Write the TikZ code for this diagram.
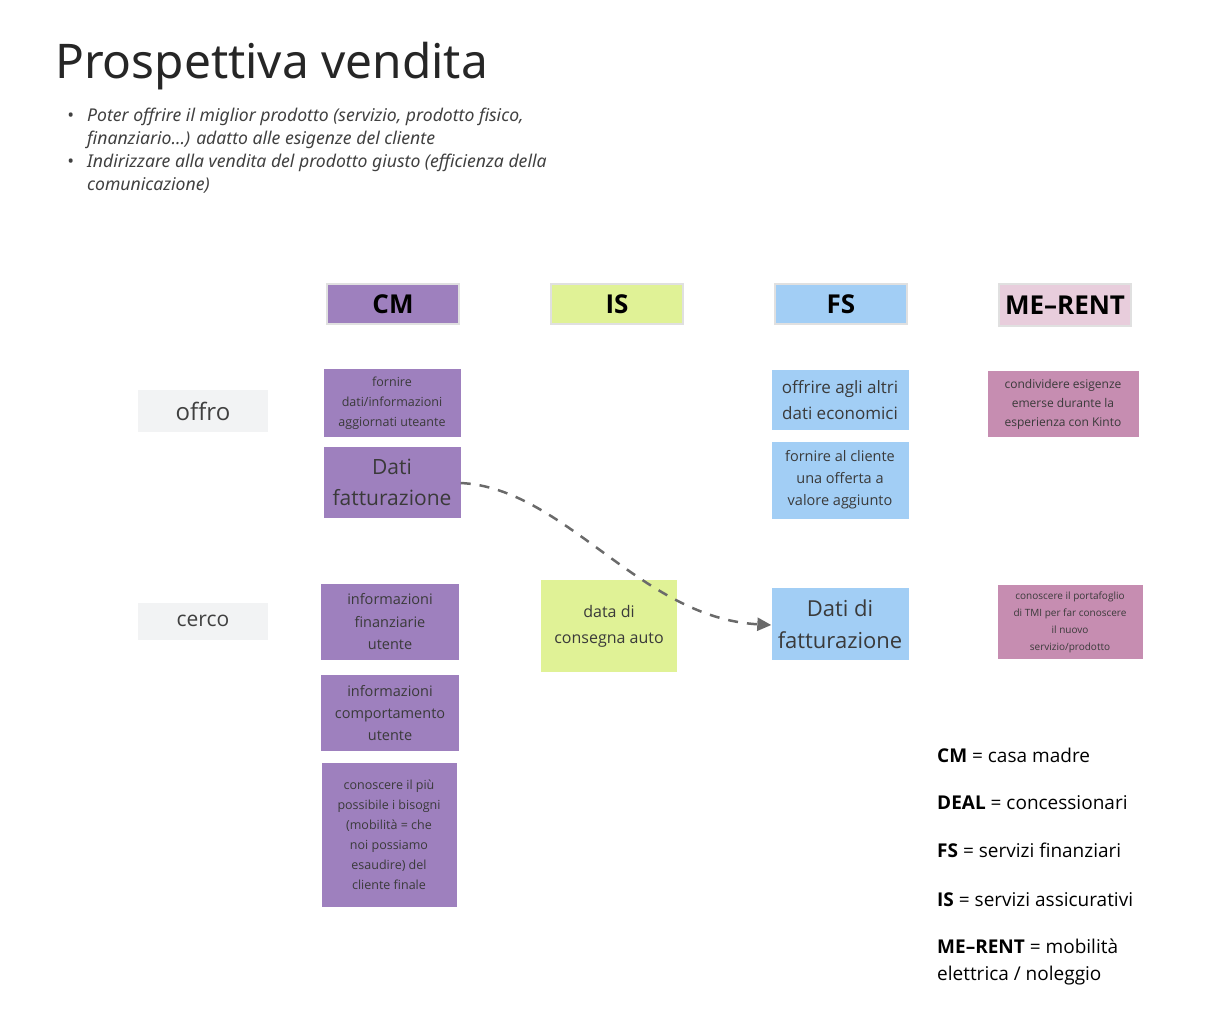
\documentclass[tikz,border=0pt]{standalone}
\usepackage{fontspec}
\setmainfont{Open Sans}
\newfontfamily\titlefont{Noto Sans}
\usetikzlibrary{arrows.meta, positioning}
\definecolor{cmpurple}{HTML}{9E80BE}
\definecolor{isgreen}{HTML}{E0F296}
\definecolor{fsblue}{HTML}{A2CEF5}
\definecolor{mepink}{HTML}{E8CDDC}
\definecolor{memauve}{HTML}{C68DB1}
\definecolor{labgray}{HTML}{F2F3F4}
\definecolor{boxtext}{HTML}{3A3A3A}
\definecolor{arrowgray}{HTML}{6A6A6A}
\newcommand{\bulletitem}{\makebox[21pt][l]{\hspace{1pt}\textbullet}}
\tikzset{
    head/.style={draw=black!12, line width=2pt, minimum width=132pt, minimum height=40pt,
        font=\fontsize{26}{30}\selectfont\bfseries, text=black, inner sep=0pt},
    card/.style={align=center, text=boxtext, inner sep=0pt},
    cmcard/.style={card, fill=cmpurple},
    iscard/.style={card, fill=isgreen},
    fscard/.style={card, fill=fsblue},
    mecard/.style={card, fill=memauve},
    rowlabel/.style={fill=labgray, minimum width=130pt, text=black!75, inner sep=0pt},
    legend/.style={anchor=base west, font=\fontsize{19}{27}\selectfont, align=left, inner sep=0pt},
}

\begin{document}
\begin{tikzpicture}[x=1pt, y=-1pt]
    \useasboundingbox (0,0) rectangle (1224,1010);

    % title and notes
    \node[anchor=base west, inner sep=0pt, font=\titlefont\fontsize{47.8}{50}\selectfont, text=black!85] (title) at (55,78) {Prospettiva vendita};
    \node[anchor=north west, inner sep=0pt, align=left, font=\titlefont\itshape\fontsize{17.6}{23}\selectfont, text=black!75] (notes) at (66,108)
        {\bulletitem Poter offrire il miglior prodotto (servizio, prodotto fisico,\\
         \hspace{21pt}finanziario...) adatto alle esigenze del cliente\\
         \bulletitem Indirizzare alla vendita del prodotto giusto (efficienza della\\
         \hspace{21pt}comunicazione)};

    % column heads
    \node[head, fill=cmpurple] (cm) at (393,304) {CM};
    \node[head, fill=isgreen] (is) at (617,304) {IS};
    \node[head, fill=fsblue] (fs) at (841,304) {FS};
    \node[head, fill=mepink, minimum height=42pt] (me) at (1065,305) {\raisebox{-3pt}{ME--RENT}};

    % rows
    \node[rowlabel, minimum height=42pt, font=\fontsize{24}{28}\selectfont] (offro) at (203,411) {offro};
    \node[rowlabel, minimum height=37pt, font=\fontsize{21}{26}\selectfont] (cerco) at (203,621) {cerco};

    % CM
    \node[cmcard, minimum width=137pt, minimum height=68pt, font=\fontsize{12.5}{20}\selectfont] (cmA) at (392,403)
        {fornire\\dati/informazioni\\aggiornati uteante};
    \node[cmcard, minimum width=137pt, minimum height=71pt, font=\fontsize{21}{31}\selectfont] (cmB) at (392,482)
        {Dati\\fatturazione};
    \node[cmcard, minimum width=138pt, minimum height=76pt, font=\fontsize{14.5}{22.5}\selectfont] (cmC) at (390,622)
        {informazioni\\finanziarie\\utente};
    \node[cmcard, minimum width=138pt, minimum height=76pt, font=\fontsize{14.5}{22}\selectfont] (cmD) at (390,713)
        {informazioni\\comportamento\\utente};
    \node[cmcard, minimum width=135pt, minimum height=144pt, font=\fontsize{12.5}{20}\selectfont] (cmE) at (389,835)
        {conoscere il più\\possibile i bisogni\\(mobilità = che\\noi possiamo\\esaudire) del\\cliente finale};

    % IS
    \node[iscard, minimum width=136pt, minimum height=92pt, font=\fontsize{16}{26}\selectfont] (isA) at (609,626)
        {data di\\consegna auto};

    % FS
    \node[fscard, minimum width=137pt, minimum height=60pt, font=\fontsize{17}{26}\selectfont] (fsA) at (840,400)
        {offrire agli altri\\dati economici};
    \node[fscard, minimum width=137pt, minimum height=77pt, font=\fontsize{14.5}{22}\selectfont] (fsB) at (840,480)
        {fornire al cliente\\una offerta a\\valore aggiunto};
    \node[fscard, minimum width=137pt, minimum height=72pt, font=\fontsize{22}{32}\selectfont] (fsC) at (840,624)
        {Dati di\\fatturazione};

    % ME-RENT
    \node[mecard, minimum width=151pt, minimum height=66pt, font=\fontsize{12}{19}\selectfont] (meA) at (1063,404)
        {condividere esigenze\\emerse durante la\\esperienza con Kinto};
    \node[mecard, minimum width=145pt, minimum height=74pt, font=\fontsize{10}{17}\selectfont] (meB) at (1070,622)
        {conoscere il portafoglio\\di TMI per far conoscere\\il nuovo\\servizio/prodotto};

    % flow
    \draw[arrowgray, line width=2.5pt, dash pattern=on 10pt off 9pt, -{Triangle[length=14pt, width=13pt]}]
        (cmB.east) ++(0,1) .. controls (565,488) and (640,618) .. (fsC.west |- 0,625);

    % legend
    \node[legend] (legCM) at (937,762) {\textbf{CM} = casa madre};
    \node[legend] (legDEAL) at (937,809) {\textbf{DEAL} = concessionari};
    \node[legend] (legFS) at (937,857) {\textbf{FS} = servizi finanziari};
    \node[legend] (legIS) at (937,906) {\textbf{IS} = servizi assicurativi};
    \node[legend] (legME) at (937,980) {\textbf{ME--RENT} = mobilità\\elettrica / noleggio};
\end{tikzpicture}
\end{document}
